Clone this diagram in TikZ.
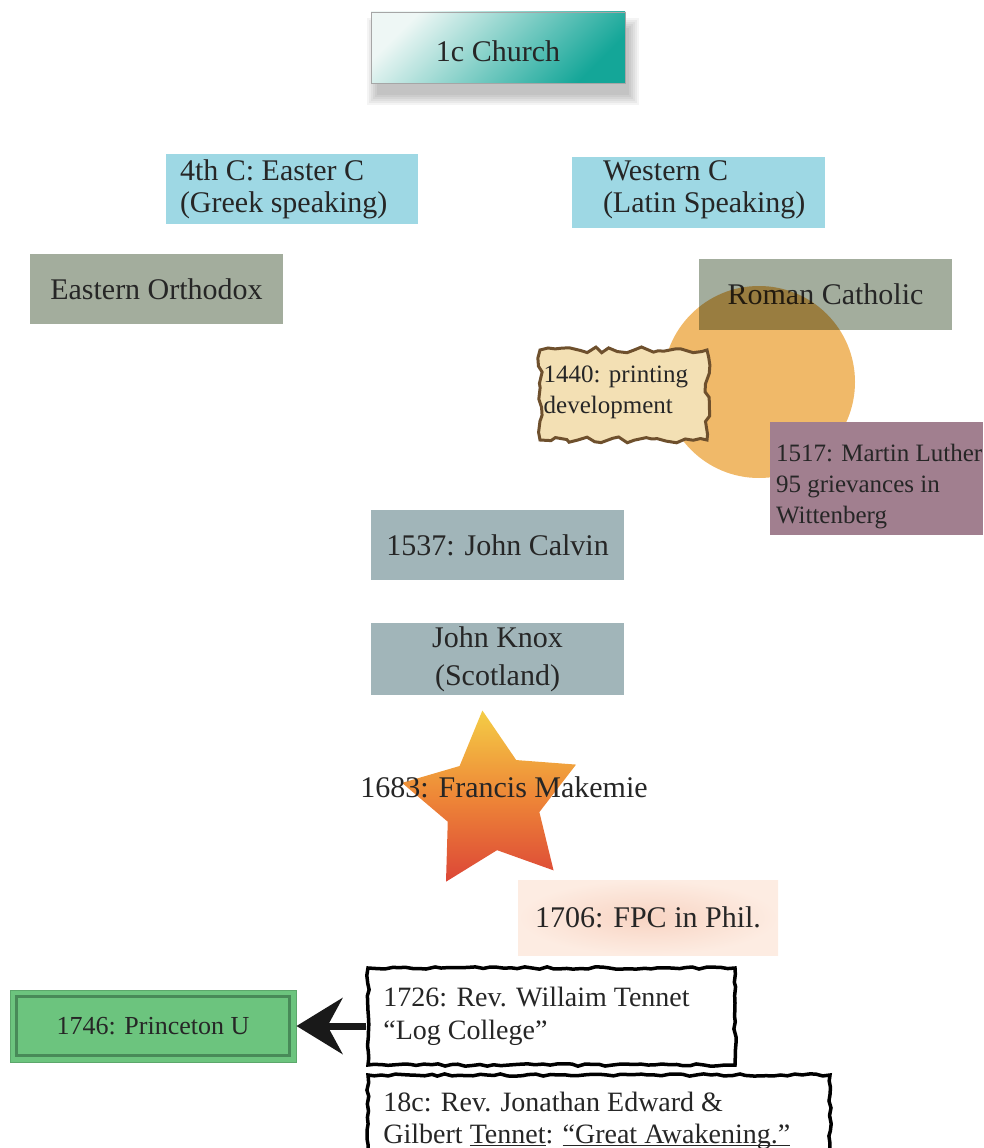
\documentclass[tikz,border=0pt]{standalone}
\usepackage{fontspec}
\setmainfont{Liberation Serif}
\usetikzlibrary{shapes,shapes.geometric,arrows.meta,decorations.pathmorphing,backgrounds}

\definecolor{churchlight}{RGB}{238,247,245}
\definecolor{churchdark}{RGB}{20,166,152}
\definecolor{paleblue}{RGB}{158,216,228}
\definecolor{sage}{RGB}{163,173,157}
\definecolor{sunorange}{RGB}{240,185,105}
\definecolor{parchment}{RGB}{243,224,180}
\definecolor{parchmentedge}{RGB}{110,80,45}
\definecolor{mauve}{RGB}{161,127,143}
\definecolor{slate}{RGB}{161,181,185}
\definecolor{staryellow}{RGB}{244,205,70}
\definecolor{starorange}{RGB}{238,135,55}
\definecolor{starred}{RGB}{220,70,55}
\definecolor{fpcinner}{RGB}{248,212,195}
\definecolor{fpcouter}{RGB}{253,236,226}
\definecolor{princegreen}{RGB}{108,196,126}
\definecolor{princeedge}{RGB}{72,138,88}

\begin{document}
\begin{tikzpicture}[x=1pt,y=-1pt,
    every node/.append style={font=\fontsize{30}{32}\selectfont,text=black!85,inner sep=0pt},
    flatbox/.style={rectangle,minimum width=253,minimum height=71},
    roughbox/.style={rectangle,draw=black,line width=3.5pt,fill=white,decorate,
      decoration={random steps,segment length=7pt,amplitude=1.2pt}},
    scrollbox/.style={rectangle,fill=parchment,draw=parchmentedge,line width=3pt,decorate,
      decoration={random steps,segment length=8pt,amplitude=3pt}},
    smalltext/.style={font=\fontsize{25}{31}\selectfont}]
  \useasboundingbox (0,0) rectangle (983,1148);

  \node (church) [flatbox,draw=black!35,line width=0.8pt,top color=churchlight,
    bottom color=churchdark,shading angle=45,minimum width=254,text height=29pt] at (498,47.5) {1c Church};
  \begin{pgfonlayer}{background}
    \foreach \s in {0,2,...,10}
      \fill[black,opacity=0.045] ([shift={(6-\s,16-\s)}]church.north west)
        rectangle ([shift={(4+\s,12+\s)}]church.south east);
  \end{pgfonlayer}

  \node (greek) [flatbox,fill=paleblue,minimum width=252,minimum height=70] at (292,189) {};
  \node (greektext) [anchor=west,align=left] at ([xshift=14]greek.west) {4th C: Easter C\\(Greek speaking)};
  \node (latin) [flatbox,fill=paleblue] at (698.5,192.5) {};
  \node (latintext) [anchor=west,align=left] at ([shift={(31,-3)}]latin.west) {Western C\\(Latin Speaking)};

  \node (orthodox) [flatbox,fill=sage,minimum height=70] at (156.5,289) {Eastern Orthodox};
  \node (catholic) [flatbox,fill=sage] at (825.5,294.5) {Roman Catholic};

  \begin{scope}[blend mode=multiply]
    \node (reform) [circle,fill=sunorange,minimum size=192] at (759,382) {};
  \end{scope}

  \node (printing) [scrollbox,minimum width=167,minimum height=90] at (623.5,395) {};
  \node (printingtext) [anchor=west,align=left,smalltext] at ([shift={(5,-3)}]printing.west) {1440: printing\\development};

  \node (luther) [rectangle,fill=mauve,minimum width=213,minimum height=113] at (876.5,478.5) {};
  \node (luthertext) [anchor=west,align=left,smalltext] at ([shift={(6,8)}]luther.west) {1517: Martin Luther\\95 grievances in\\Wittenberg};

  \node (calvin) [flatbox,fill=slate,minimum height=70] at (497.5,545) {1537: John Calvin};
  \node (knox) [flatbox,fill=slate,minimum height=72,align=center,font=\fontsize{30}{38}\selectfont] at (497.5,659) {John Knox\\(Scotland)};

  \node (makemiestar) [star,star points=5,star point ratio=1.9,shape border rotate=6,minimum size=184,
    top color=staryellow,bottom color=starred,middle color=starorange] at (492,802) {};
  \node (makemie) at (504,787) {1683: Francis Makemie};

  \node (fpc) [rectangle,minimum width=260,minimum height=75,inner color=fpcinner,outer color=fpcouter] at (648,917.5) {1706: FPC in Phil.};

  \node (tennent) [roughbox,minimum width=367,minimum height=97] at (551.5,1016.5) {};
  \node (tennenttext) [anchor=west,align=left,font=\fontsize{28}{33}\selectfont] at ([xshift=17]tennent.west) {1726: Rev. Willaim Tennet\\“Log College”};

  \node (princeton) [rectangle,fill=princegreen,draw=princegreen!85!black,line width=1pt,
    minimum width=286,minimum height=72,font=\fontsize{26}{30}\selectfont] at (153,1026) {1746: Princeton U};
  \draw[princeedge,line width=3pt] ([shift={(7,7)}]princeton.north west) rectangle ([shift={(-7,-7)}]princeton.south east);
  \draw[-{Stealth[length=46pt,width=56pt,inset=15pt]},line width=7pt,black!90] (princeton.east -| tennent.west) -- (princeton.east);

  \node (edwards) [roughbox,minimum width=462,minimum height=90] at (599,1120) {};
  \node (edwardstext) [anchor=north west,align=left,font=\fontsize{28}{32}\selectfont] at ([shift={(17,19)}]edwards.north west) {18c: Rev. Jonathan Edward \&\\Gilbert \underline{Tennet}: \underline{\smash{“Great Awakening.”}}};
\end{tikzpicture}
\end{document}
